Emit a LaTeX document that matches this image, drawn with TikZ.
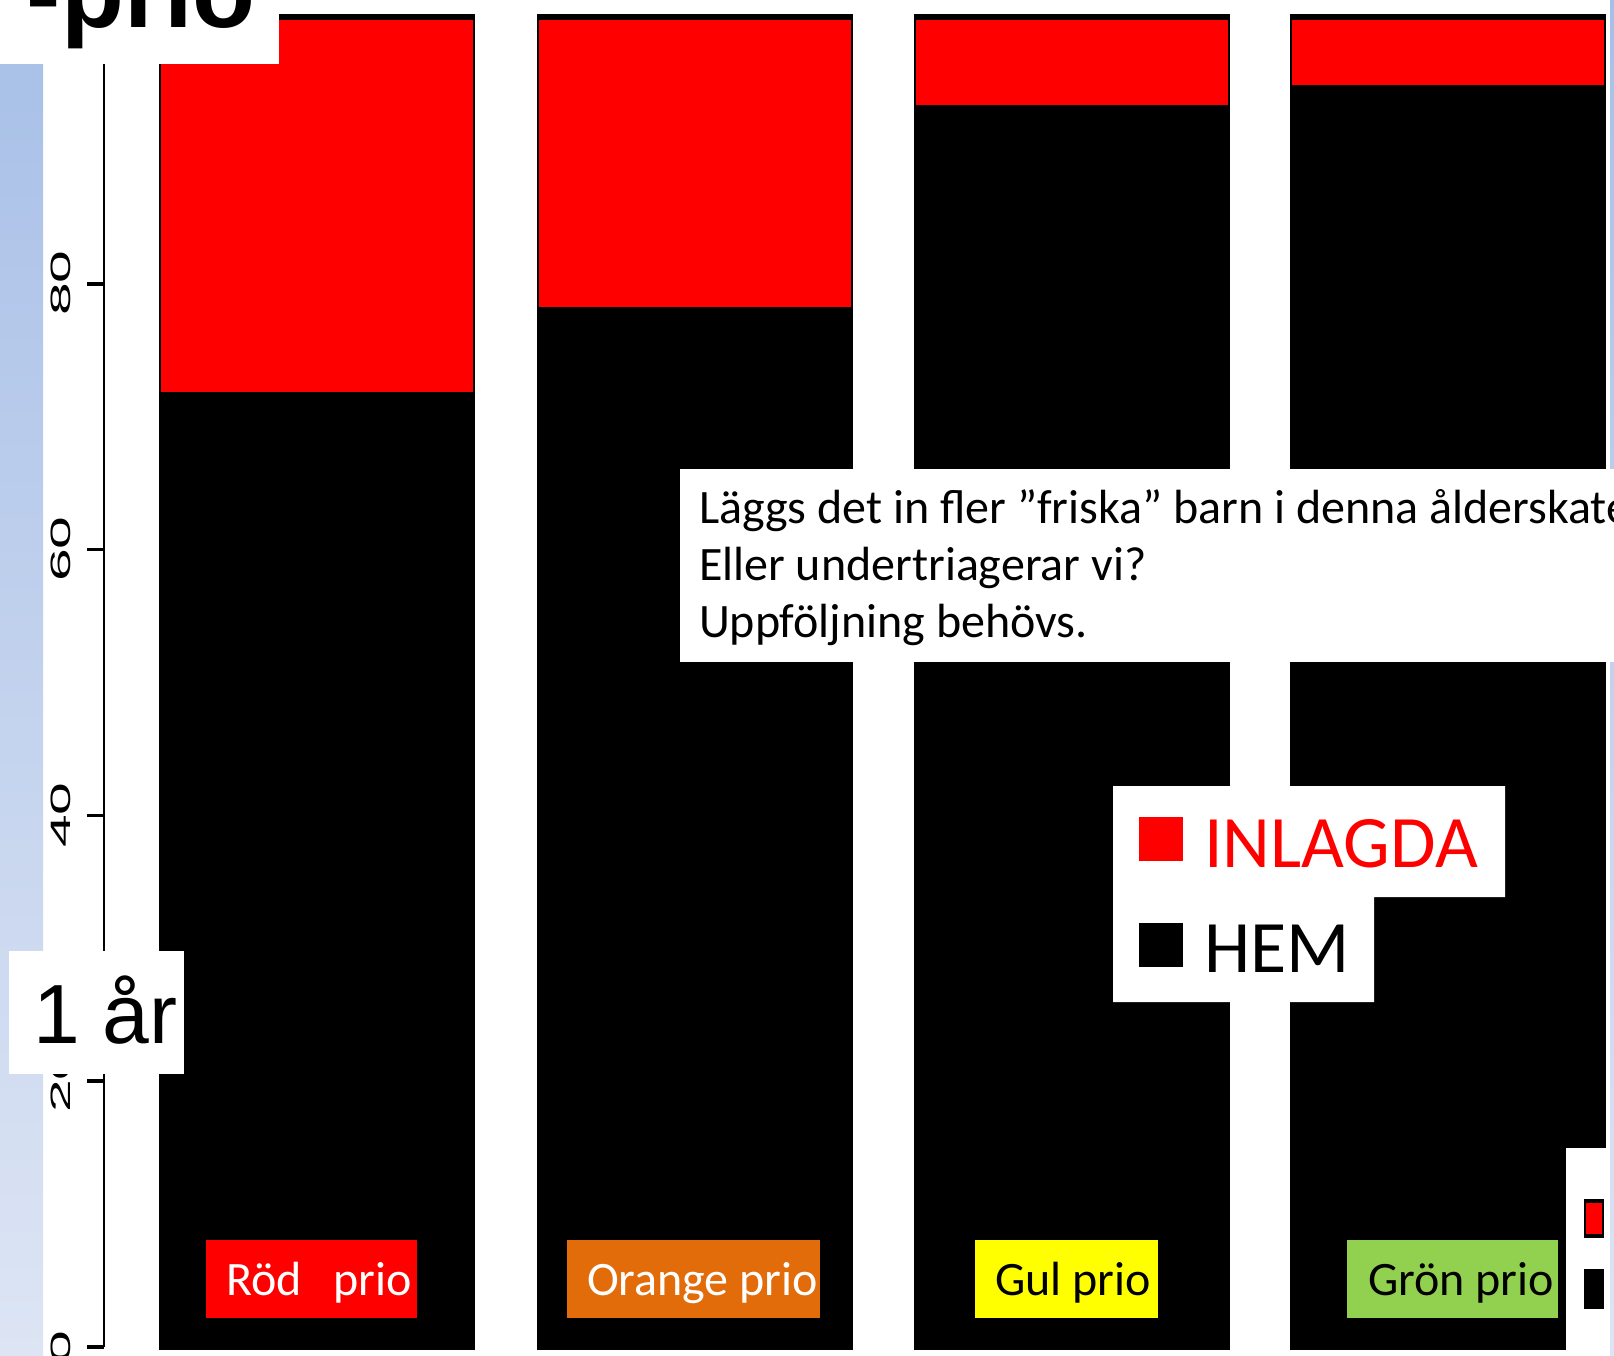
\documentclass[tikz,border=0pt]{standalone}
\usepackage{fontspec}
\usepackage{graphicx}
\setmainfont{Carlito}
\newfontfamily\arialfont{Liberation Sans}
\definecolor{stripTop}{HTML}{A7BFE7}
\definecolor{stripBot}{HTML}{DDE5F4}
\definecolor{prioRed}{HTML}{FF0000}
\definecolor{prioOrange}{HTML}{E36C0A}
\definecolor{prioYellow}{HTML}{FFFF00}
\definecolor{prioGreen}{HTML}{92D050}
\tikzset{
  lbl/.style={anchor=base west, inner sep=0pt, outer sep=0pt},
  ticklab/.style={rotate=90, inner sep=0pt, font=\arialfont\fontsize{28}{28}\selectfont},
  catlab/.style={lbl, font=\fontsize{48}{58}\selectfont},
  bodytext/.style={lbl, font=\fontsize{48}{58}\selectfont},
  legtext/.style={lbl, font=\fontsize{74}{80}\selectfont},
}
\begin{document}
\begin{tikzpicture}[x=1pt,y=-1pt]
\useasboundingbox (0,0) rectangle (1614,1355);
\fill[white] (0,0) rectangle (1614,1355);
% side strips
\shade[top color=stripTop, bottom color=stripBot] (0,0) rectangle (43,1355);
\shade[top color=stripTop, bottom color=stripBot] (1610,0) rectangle (1614,1355);
% bars
\foreach \l/\r in {159/392, 537/307, 914/105, 1290/85}{
  \fill[black] (\l,14) rectangle ({\l+316},1350);
  \fill[prioRed] ({\l+2},20) rectangle ({\l+314},\r);
}
% axis
\draw[line width=2pt] (104,18) -- (104,1347);
\foreach \v in {0,20,40,60,80,100}{
  \draw[line width=3.5pt] (87,{1347-13.29*\v}) -- (104,{1347-13.29*\v});
}
\node[ticklab] (t0) at (61,1347) {\scalebox{2.1}[1]{0}};
\node[ticklab] (t20) at (61,1080) {\scalebox{2.1}[1]{20}};
\node[ticklab] (t40) at (61,815) {\scalebox{2.1}[1]{40}};
\node[ticklab] (t60) at (61,549) {\scalebox{2.1}[1]{60}};
\node[ticklab] (t80) at (61,283) {\scalebox{2.1}[1]{80}};
% category labels
\fill[prioRed] (206,1240) rectangle (417,1318);
\node[catlab, text=white] (lred) at (226,1295) {Röd\hspace{32pt}prio};
\fill[prioOrange] (567,1240) rectangle (820,1318);
\node[catlab, text=white] (lorange) at (587,1295) {Orange prio};
\fill[prioYellow] (975,1240) rectangle (1158,1318);
\node[catlab, text=black] (lyellow) at (995,1295) {Gul prio};
\fill[prioGreen] (1347,1240) rectangle (1558,1318);
\node[catlab, text=black] (lgreen) at (1368,1295) {Grön prio};
% title box
\fill[white] (0,0) rectangle (279,64);
\node[lbl, font=\arialfont\bfseries\fontsize{103}{110}\selectfont] (title) at (27,27) {-prio};
% age box
\fill[white] (9,951) rectangle (184,1074);
\node[lbl, font=\arialfont\fontsize{84}{90}\selectfont] (age) at (33,1043) {1 år};
% question box
\fill[white] (680,469) rectangle (1614,662);
\begin{scope}
\clip (680,469) rectangle (1614,662);
\node[bodytext] (q1) at (699,523) {Läggs det in fler ”friska” barn i denna ålderskategori?};
\node[bodytext] (q2) at (699,580) {Eller undertriagerar vi?};
\node[bodytext] (q3) at (699,637) {Uppföljning behövs.};
\end{scope}
% big legend
\fill[white] (1113,786) -- (1505,786) -- (1505,897) -- (1374,897) -- (1374,1002) -- (1113,1002) -- cycle;
\fill[prioRed] (1139,817) rectangle (1183,861);
\fill[black] (1139,923) rectangle (1183,967);
\node[legtext, text=prioRed] (inl) at (1204,867) {INLAGDA};
\node[legtext, text=black] (hem) at (1204,972) {HEM};
% small legend
\fill[white] (1566,1148) rectangle (1610,1355);
\fill[black] (1584,1199) rectangle (1604,1238);
\fill[prioRed] (1586,1203) rectangle (1602,1234);
\fill[black] (1584,1269) rectangle (1604,1309);
\end{tikzpicture}
\end{document}
